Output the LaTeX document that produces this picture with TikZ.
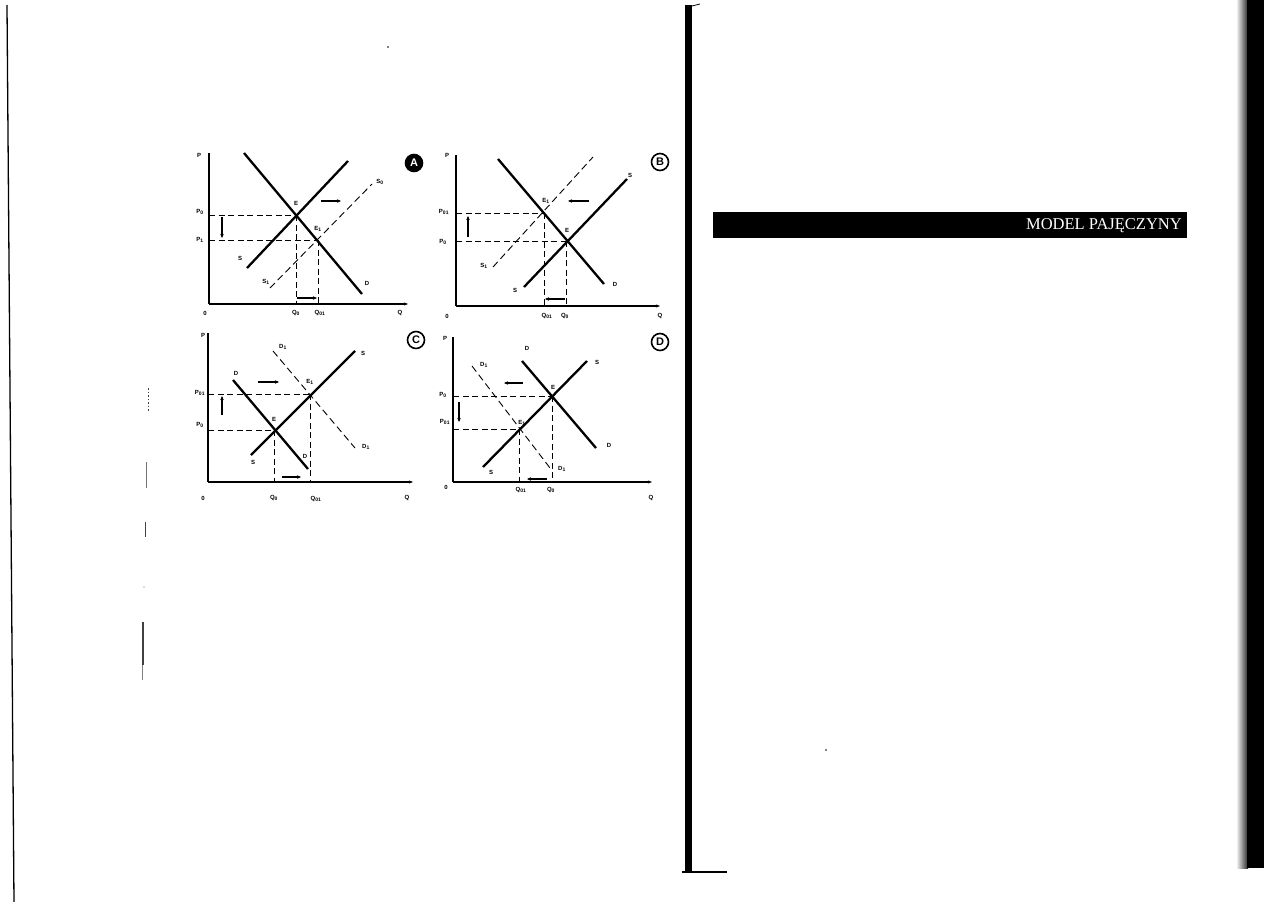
\documentclass[tikz,border=0pt]{standalone}
\usepackage{fontspec}
\setmainfont{Liberation Serif}
\setsansfont{Liberation Sans}
\usetikzlibrary{arrows.meta}
\newcommand\sub[2]{#1\textsubscript{#2}}
\begin{document}
\begin{tikzpicture}[x=1pt,y=-1pt,
  axisline/.style={line width=1.6pt,-{Stealth[length=4pt,width=3pt]}},
  curve/.style={line width=2.3pt},
  dcurve/.style={line width=0.9pt,dash pattern=on 7pt off 4pt},
  guide/.style={line width=0.9pt,dash pattern=on 6pt off 3.5pt},
  shiftarr/.style={line width=1.3pt,-{Stealth[length=4pt,width=3.5pt]}},
  lab/.style={font=\sffamily\bfseries\fontsize{6}{6}\selectfont,inner sep=0.5pt},
  tag/.style={circle,draw,line width=1.6pt,minimum size=17pt,inner sep=0pt,font=\sffamily\bfseries\fontsize{11}{11}\selectfont},
  tagfill/.style={tag,fill=black,text=white},
  scanmark/.style={line width=1pt,black!75}]
\useasboundingbox (0,0) rectangle (1269,902);

% ---------------- Panel A ----------------
\coordinate (Ao) at (209,304);
\coordinate (Ay) at (209,153);
\coordinate (Ax) at (408,304);
\coordinate (AE) at (296,215);
\coordinate (AE1) at (318,240);
\coordinate (ADa) at (244,153);
\coordinate (ADb) at (362,294);
\coordinate (ASa) at (247,268);
\coordinate (ASb) at (348,161);
\coordinate (AS1a) at (270,288);
\coordinate (AS1b) at (372,184);
\draw[line width=1.6pt] (Ay) -- (Ao);
\draw[axisline] (Ao) -- (Ax);
\draw[guide] (AE -| Ao) -- (AE);
\draw[guide] (AE1 -| Ao) -- (AE1);
\draw[guide] (AE) -- (AE |- Ao);
\draw[guide] (AE1) -- (AE1 |- Ao);
\draw[curve] (ADa) -- (ADb);
\draw[curve] (ASa) -- (ASb);
\draw[dcurve] (AS1a) -- (AS1b);
\coordinate (Aa1) at (222,217); \coordinate (Aa2) at (222,238);
\draw[shiftarr] (Aa1) -- (Aa2);
\coordinate (Ab1) at (321,201); \coordinate (Ab2) at (341,201);
\draw[shiftarr] (Ab1) -- (Ab2);
\coordinate (Ac1) at (297,298); \coordinate (Ac2) at (317,298);
\draw[shiftarr] (Ac1) -- (Ac2);
\node[lab] (AlP) at (199,155) {P};
\node[lab] (Al0) at (205,313) {0};
\node[lab] (AlQ) at (400,313) {Q};
\node[lab] (AlP0) at (200,212) {\sub{P}{0}};
\node[lab] (AlP1) at (200,240) {\sub{P}{1}};
\node[lab] (AlE) at (296,203) {E};
\node[lab] (AlE1) at (318,229) {\sub{E}{1}};
\node[lab] (AlS) at (240,258) {S};
\node[lab] (AlD) at (367,283) {D};
\node[lab] (AlS1) at (266,282) {\sub{S}{1}};
\node[lab] (AlS2) at (380,182) {\sub{S}{0}};
\node[lab] (AlQ0) at (296,313) {\sub{Q}{0}};
\node[lab] (AlQ01) at (320,313) {\sub{Q}{01}};
\node[tagfill] (tA) at (414,163) {A};

% ---------------- Panel B ----------------
\coordinate (Bo) at (456,306);
\coordinate (By) at (456,155);
\coordinate (Bx) at (660,306);
\coordinate (BE) at (566,241);
\coordinate (BE1) at (544,213);
\coordinate (BDa) at (498,159);
\coordinate (BDb) at (604,284);
\coordinate (BSa) at (524,287);
\coordinate (BSb) at (627,179);
\coordinate (BS1a) at (493,267);
\coordinate (BS1b) at (593,157);
\draw[line width=1.6pt] (By) -- (Bo);
\draw[axisline] (Bo) -- (Bx);
\draw[guide] (BE -| Bo) -- (BE);
\draw[guide] (BE1 -| Bo) -- (BE1);
\draw[guide] (BE) -- (BE |- Bo);
\draw[guide] (BE1) -- (BE1 |- Bo);
\draw[curve] (BDa) -- (BDb);
\draw[curve] (BSa) -- (BSb);
\draw[dcurve] (BS1a) -- (BS1b);
\coordinate (Ba1) at (468,237); \coordinate (Ba2) at (468,216);
\draw[shiftarr] (Ba1) -- (Ba2);
\coordinate (Bb1) at (589,201); \coordinate (Bb2) at (568,201);
\draw[shiftarr] (Bb1) -- (Bb2);
\coordinate (Bc1) at (565,299); \coordinate (Bc2) at (545,299);
\draw[shiftarr] (Bc1) -- (Bc2);
\node[lab] (BlP) at (447,155) {P};
\node[lab] (Bl0) at (447,316) {0};
\node[lab] (BlQ) at (660,316) {Q};
\node[lab] (BlP01) at (444,212) {\sub{P}{01}};
\node[lab] (BlP0) at (443,242) {\sub{P}{0}};
\node[lab] (BlE) at (567,230) {E};
\node[lab] (BlE1) at (546,201) {\sub{E}{1}};
\node[lab] (BlS) at (515,290) {S};
\node[lab] (BlSt) at (630,175) {S};
\node[lab] (BlD) at (615,284) {D};
\node[lab] (BlS1) at (484,266) {\sub{S}{1}};
\node[lab] (BlQ01) at (547,316) {\sub{Q}{01}};
\node[lab] (BlQ0) at (565,316) {\sub{Q}{0}};
\node[tag] (tB) at (660,162) {B};

% ---------------- Panel C ----------------
\coordinate (Co) at (208,482);
\coordinate (Cy) at (208,333);
\coordinate (Cx) at (413,482);
\coordinate (CE) at (274,430);
\coordinate (CE1) at (310,394);
\coordinate (CDa) at (233,380);
\coordinate (CDb) at (308,469);
\coordinate (CSa) at (251,455);
\coordinate (CSb) at (355,351);
\coordinate (CD1a) at (273,351);
\coordinate (CD1b) at (355,448);
\draw[line width=1.6pt] (Cy) -- (Co);
\draw[axisline] (Co) -- (Cx);
\draw[guide] (CE -| Co) -- (CE);
\draw[guide] (CE1 -| Co) -- (CE1);
\draw[guide] (CE) -- (CE |- Co);
\draw[guide] (CE1) -- (CE1 |- Co);
\draw[curve] (CDa) -- (CDb);
\draw[curve] (CSa) -- (CSb);
\draw[dcurve] (CD1a) -- (CD1b);
\coordinate (Ca1) at (222,415); \coordinate (Ca2) at (222,396);
\draw[shiftarr] (Ca1) -- (Ca2);
\coordinate (Cb1) at (258,382); \coordinate (Cb2) at (279,382);
\draw[shiftarr] (Cb1) -- (Cb2);
\coordinate (Cc1) at (282,477); \coordinate (Cc2) at (301,477);
\draw[shiftarr] (Cc1) -- (Cc2);
\node[lab] (ClP) at (203,335) {P};
\node[lab] (Cl0) at (203,498) {0};
\node[lab] (ClQ) at (407,498) {Q};
\node[lab] (ClP01) at (200,393) {\sub{P}{01}};
\node[lab] (ClP0) at (200,425) {\sub{P}{0}};
\node[lab] (ClE) at (274,419) {E};
\node[lab] (ClE1) at (310,382) {\sub{E}{1}};
\node[lab] (ClD) at (236,373) {D};
\node[lab] (ClDb) at (305,456) {D};
\node[lab] (ClS) at (253,462) {S};
\node[lab] (ClSt) at (363,353) {S};
\node[lab] (ClD1t) at (283,347) {\sub{D}{1}};
\node[lab] (ClD1r) at (366,447) {\sub{D}{1}};
\node[lab] (ClQ0) at (274,498) {\sub{Q}{0}};
\node[lab] (ClQ01) at (316,499) {\sub{Q}{01}};
\node[tag] (tC) at (416,340) {C};

% ---------------- Panel D ----------------
\coordinate (Do) at (453,482);
\coordinate (Dy) at (453,337);
\coordinate (Dx) at (652,482);
\coordinate (DE) at (552,396);
\coordinate (DE1) at (519,429);
\coordinate (DDa) at (522,361);
\coordinate (DDb) at (596,448);
\coordinate (DSa) at (483,467);
\coordinate (DSb) at (587,361);
\coordinate (DD1a) at (472,366);
\coordinate (DD1b) at (550,468);
\draw[line width=1.6pt] (Dy) -- (Do);
\draw[axisline] (Do) -- (Dx);
\draw[guide] (DE -| Do) -- (DE);
\draw[guide] (DE1 -| Do) -- (DE1);
\draw[guide] (DE) -- (DE |- Do);
\draw[guide] (DE1) -- (DE1 |- Do);
\draw[curve] (DDa) -- (DDb);
\draw[curve] (DSa) -- (DSb);
\draw[dcurve] (DD1a) -- (DD1b);
\coordinate (Da1) at (459,402); \coordinate (Da2) at (459,422);
\draw[shiftarr] (Da1) -- (Da2);
\coordinate (Db1) at (523,383); \coordinate (Db2) at (504,383);
\draw[shiftarr] (Db1) -- (Db2);
\coordinate (Dc1) at (547,479); \coordinate (Dc2) at (527,479);
\draw[shiftarr] (Dc1) -- (Dc2);
\node[lab] (DlP) at (445,338) {P};
\node[lab] (Dl0) at (446,487) {0};
\node[lab] (DlQ) at (651,498) {Q};
\node[lab] (DlP0) at (443,395) {\sub{P}{0}};
\node[lab] (DlP01) at (445,422) {\sub{P}{01}};
\node[lab] (DlE) at (553,387) {E};
\node[lab] (DlE1) at (522,423) {\sub{E}{1}};
\node[lab] (DlD) at (527,348) {D};
\node[lab] (DlDr) at (609,445) {D};
\node[lab] (DlS) at (491,472) {S};
\node[lab] (DlSt) at (597,362) {S};
\node[lab] (DlD1t) at (484,365) {\sub{D}{1}};
\node[lab] (DlD1b) at (562,469) {\sub{D}{1}};
\node[lab] (DlQ01) at (521,490) {\sub{Q}{01}};
\node[lab] (DlQ0) at (551,490) {\sub{Q}{0}};
\node[tag] (tD) at (660,342) {D};

% ---------------- page furniture ----------------
\fill[black] (685,5) rectangle (692,873);
\draw[line width=1.5pt] (682,872) -- (727,872);
\draw[line width=0.8pt] (692,6) -- (700,4);
\fill[black] (713,212) rectangle (1187,238);
\node[anchor=east,text=white,font=\fontsize{16.5}{17}\selectfont,inner sep=0pt] (banner) at (1182,226) {MODEL PAJĘCZYNY};
\shade[left color=white,right color=black!85] (1236,0) rectangle (1248,868);
\fill[black] (1247,0) rectangle (1264,868);
\draw[line width=1.3pt] (7,5) -- (14,902);
\draw[scanmark,dash pattern=on 1.5pt off 2pt] (148,388) -- (148,412);
\draw[scanmark,black!55] (146,462) -- (146,488);
\draw[scanmark] (145,522) -- (145,537);
\fill[black!60] (144,587) circle (0.6pt);
\draw[scanmark,line width=1.6pt] (143,622) -- (143,665);
\draw[scanmark,black!50] (142,665) -- (142,680);
\fill (388,47) circle (0.8pt);
\fill (826,750) circle (0.8pt);
\end{tikzpicture}
\end{document}
